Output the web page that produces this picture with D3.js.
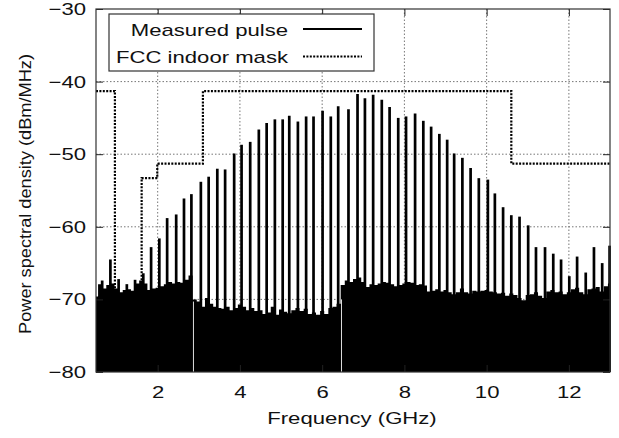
<!DOCTYPE html>
<html>
<head>
<meta charset="utf-8">
<script src="https://cdn.jsdelivr.net/npm/d3@7"></script>
<style>
  html, body { margin: 0; padding: 0; background: #fff; }
  svg { display: block; font-family: "Liberation Sans", Arial, Helvetica, sans-serif; }
</style>
</head>
<body>
<svg id="chart" width="619" height="438"></svg>
<script>
// Axis ticks
const xTicks = [2, 4, 6, 8, 10, 12];
const yTicks = [-30, -40, -50, -60, -70, -80];

// Spectral lines of the measured pulse (GHz, dBm/MHz)
const spikeFreqs = [0.65, 0.85, 1.05, 1.25, 1.45, 1.65, 1.84, 2.04, 2.23, 2.45,
  2.64, 2.82, 3.05, 3.24, 3.45, 3.64, 3.86, 4.04, 4.25, 4.46,
  4.65, 4.85, 5.04, 5.20, 5.41, 5.61, 5.79, 6.01, 6.21, 6.39,
  6.64, 6.86, 7.04, 7.24, 7.45, 7.64, 7.85, 8.04, 8.26, 8.46,
  8.65, 8.85, 9.04, 9.21, 9.41, 9.61, 9.81, 10.03, 10.20, 10.40,
  10.60, 10.80, 11.01, 11.20, 11.42, 11.62, 11.81, 12.01, 12.20, 12.41,
  12.61, 12.81, 12.99];
const spikePeaks = [-67.4, -64.5, -67.2, -67.9, -67.3, -66.4, -62.8, -61.6, -58.8, -58.3,
  -56.1, -55.5, -53.8, -53.1, -52.0, -52.1, -49.9, -48.7, -48.3, -46.6,
  -45.7, -45.2, -45.2, -44.7, -45.5, -44.8, -44.8, -44.0, -44.8, -43.4,
  -43.8, -41.7, -42.3, -41.8, -42.5, -43.5, -45.0, -44.8, -44.4, -45.4,
  -46.2, -47.2, -48.0, -49.9, -50.5, -51.9, -53.3, -53.5, -55.4, -57.3,
  -58.4, -58.6, -59.8, -62.8, -62.8, -63.7, -64.5, -66.8, -64.1, -66.3,
  -62.8, -65.0, -62.6];

// Noise floor, sampled every 0.1 GHz from 0.5 GHz
const floorStart = 0.5;
const floorStep = 0.1;
const floorLevels = [
  -69.6, -67.9, -68.5, -68.0, -67.8, -68.5, -69.0, -68.7, -68.6, -68.8,
  -67.8, -67.4, -67.8, -68.7, -68.5, -68.4, -68.2, -67.9, -67.6, -67.8,
  -67.6, -67.7, -67.3, -66.7, -70.0, -70.3, -71.0, -69.8, -70.6, -71.0,
  -71.2, -71.3, -71.0, -71.5, -71.2, -70.7, -71.0, -71.5, -71.2, -71.6,
  -71.5, -72.0, -71.8, -71.0, -72.1, -71.4, -71.7, -71.9, -71.5, -71.2,
  -71.6, -71.3, -72.0, -71.8, -72.1, -71.6, -72.0, -71.2, -71.0, -70.6,
  -68.0, -67.4, -67.6, -67.2, -67.0, -67.6, -68.3, -67.9, -68.0, -67.8,
  -67.6, -67.7, -67.9, -68.2, -68.0, -67.8, -67.6, -67.7, -68.0, -67.9,
  -68.1, -68.9, -68.8, -68.6, -68.9, -68.7, -69.0, -69.3, -69.0, -68.5,
  -69.0, -69.2, -68.8, -68.9, -68.8, -68.7, -68.9, -69.0, -69.2, -69.1,
  -69.5, -69.2, -69.4, -69.8, -70.1, -69.4, -69.3, -69.0, -69.5, -69.8,
  -68.9, -68.7, -69.0, -68.9, -69.3, -69.0, -68.6, -68.4, -69.0, -69.3,
  -68.6, -68.5, -68.3, -68.9, -68.2, -67.8];

// Dropouts between measurement segments
const gapFreqs = [2.87, 6.47];
const gapTops = [-70.3, -70.0];

// FCC indoor emission mask (band edges in GHz, level per band)
const maskEdges = [0.5, 0.96, 1.61, 1.99, 3.1, 10.6, 13.0];
const maskLevels = [-41.3, -75.3, -53.3, -51.3, -41.3, -51.3];

const legendLabels = ["Measured pulse", "FCC indoor mask"];

const svg = d3.select("#chart");
const plotL = 96, plotR = 610, plotT = 9, plotB = 372;
const x = d3.scaleLinear().domain([0.5, 13]).range([plotL, plotR]);
const y = d3.scaleLinear().domain([-80, -30]).range([plotB, plotT]);
const FONT = 17;
const WIDEN = 1.3; // the typeface is set noticeably wide

// stretch a text node horizontally along its own baseline
function widen(sel, factor) {
  sel.each(function () {
    const w = this.getComputedTextLength();
    d3.select(this).attr("textLength", w * factor).attr("lengthAdjust", "spacingAndGlyphs");
  });
}

svg.append("rect").attr("width", 619).attr("height", 438).attr("fill", "#fff");

// grid
const grid = svg.append("g").attr("stroke", "#666").attr("stroke-width", 0.9)
  .attr("stroke-dasharray", "1.5,2");
grid.selectAll("line.gx").data(xTicks).join("line").attr("class", "gx")
  .attr("x1", d => x(d)).attr("x2", d => x(d)).attr("y1", plotT).attr("y2", plotB);
grid.selectAll("line.gy").data(yTicks.filter(d => d > -80 && d < -30)).join("line").attr("class", "gy")
  .attr("y1", d => y(d)).attr("y2", d => y(d)).attr("x1", plotL).attr("x2", plotR);

// noise floor
const floorPts = floorLevels.map((v, i) => [floorStart + i * floorStep, v]);
svg.append("path")
  .datum(floorPts)
  .attr("fill", "#000")
  .attr("d", d3.area().curve(d3.curveStep)
    .x(d => x(d[0])).y0(y(-80)).y1(d => y(d[1])));

// spectral lines
svg.append("g").attr("stroke", "#000").attr("stroke-width", 2.7)
  .selectAll("line").data(spikeFreqs).join("line")
  .attr("x1", d => x(d)).attr("x2", d => x(d))
  .attr("y1", y(-80)).attr("y2", (d, i) => y(spikePeaks[i]));

// segment dropouts
svg.append("g").attr("stroke", "#ddd").attr("stroke-width", 1)
  .selectAll("line").data(gapFreqs).join("line")
  .attr("x1", d => x(d)).attr("x2", d => x(d))
  .attr("y1", (d, i) => y(gapTops[i])).attr("y2", y(-80));

// mask
const maskPts = maskLevels.map((v, i) => [maskEdges[i], v]);
maskPts.push([maskEdges[maskEdges.length - 1], maskLevels[maskLevels.length - 1]]);
svg.append("path")
  .datum(maskPts)
  .attr("fill", "none").attr("stroke", "#000").attr("stroke-width", 2.2)
  .attr("stroke-dasharray", "2,1.4")
  .attr("d", d3.line().curve(d3.curveStepAfter).x(d => x(d[0])).y(d => y(d[1])));

// axes
const fmt = d => (d < 0 ? "\u2212" + Math.abs(d) : String(d));
const tickLen = 7;
const axB = svg.append("g").attr("transform", `translate(0,${plotB})`)
  .call(d3.axisBottom(x).tickValues(xTicks).tickSize(-tickLen).tickPadding(14).tickFormat(fmt));
const axL = svg.append("g").attr("transform", `translate(${plotL},0)`)
  .call(d3.axisLeft(y).tickValues(yTicks).tickSize(-tickLen).tickPadding(10).tickFormat(fmt));
const axT = svg.append("g").attr("transform", `translate(0,${plotT})`)
  .call(d3.axisTop(x).tickValues(xTicks).tickSize(-tickLen).tickFormat(""));
const axR = svg.append("g").attr("transform", `translate(${plotR},0)`)
  .call(d3.axisRight(y).tickValues(yTicks).tickSize(-tickLen).tickFormat(""));
[axB, axL, axT, axR].forEach(g => {
  g.select(".domain").remove();
  g.selectAll(".tick line").attr("stroke", "#222").attr("stroke-width", 1);
  g.selectAll(".tick text").attr("fill", "#111").style("font-size", FONT + "px")
    .style("font-family", '"Liberation Sans", Arial, sans-serif');
});
widen(axB.selectAll(".tick text"), WIDEN);
widen(axL.selectAll(".tick text"), WIDEN);

// frame
svg.append("rect").attr("x", plotL).attr("y", plotT)
  .attr("width", plotR - plotL).attr("height", plotB - plotT)
  .attr("fill", "none").attr("stroke", "#333").attr("stroke-width", 1.2);

// axis titles
const xTitle = svg.append("text").attr("x", 352).attr("y", 424).attr("text-anchor", "middle")
  .attr("fill", "#111").style("font-size", FONT + "px").text("Frequency (GHz)");
widen(xTitle, WIDEN);
const yTitle = svg.append("text").attr("transform", "translate(31,194) rotate(-90)")
  .attr("text-anchor", "middle").attr("fill", "#111").style("font-size", FONT + "px")
  .text("Power spectral density (dBm/MHz)");
widen(yTitle, 1.07);

// legend
const lg = svg.append("g");
lg.append("rect").attr("x", 109).attr("y", 14).attr("width", 265).attr("height", 57)
  .attr("fill", "#fff").attr("stroke", "#333").attr("stroke-width", 1.2);
const rows = [29, 56.5];
const lgText = lg.selectAll("text").data(legendLabels).join("text")
  .attr("x", 288).attr("y", (d, i) => rows[i] + 6.5).attr("text-anchor", "end")
  .attr("fill", "#111").style("font-size", FONT + "px").text(d => d);
widen(lgText, WIDEN);
lg.append("line").attr("x1", 303).attr("x2", 362).attr("y1", rows[0]).attr("y2", rows[0])
  .attr("stroke", "#000").attr("stroke-width", 2.2);
lg.append("line").attr("x1", 303).attr("x2", 362).attr("y1", rows[1]).attr("y2", rows[1])
  .attr("stroke", "#000").attr("stroke-width", 2.2).attr("stroke-dasharray", "2,1.4");
</script>
</body>
</html>
